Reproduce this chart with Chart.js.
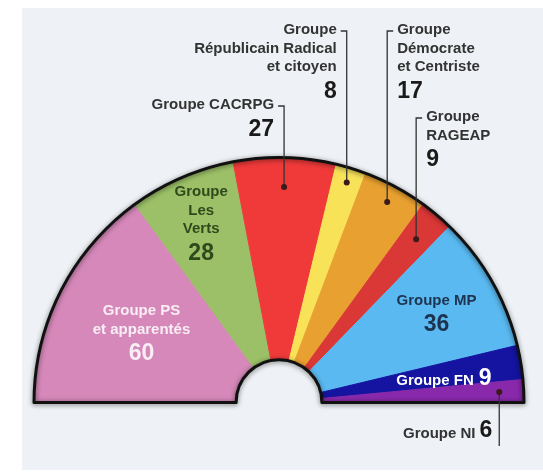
<!DOCTYPE html>
<html>
<head>
<meta charset="utf-8">
<script src="https://cdn.jsdelivr.net/npm/chart.js@4/dist/chart.umd.min.js"></script>
<style>
  body { margin: 0; background: #ffffff; }
  #panel { position: absolute; left: 22px; top: 8px; width: 521px; height: 462px; background: #eef1f5; }
  #chart { position: absolute; left: 0; top: 0; }
</style>
</head>
<body>
<div id="panel"></div>
<canvas id="chart" width="543" height="474"></canvas>
<script>
// seats per group, left to right around the hemicycle
const groups = ['Groupe PS et apparentés', 'Groupe Les Verts', 'Groupe CACRPG',
  'Groupe Républicain Radical et citoyen', 'Groupe Démocrate et Centriste',
  'Groupe RAGEAP', 'Groupe MP', 'Groupe FN', 'Groupe NI'];
const seats = [60, 28, 27, 8, 17, 9, 36, 9, 6];
const colors = ['#d588b9', '#9bc067', '#f03a3a', '#f7e258', '#e8a030',
  '#da3737', '#5ab9f0', '#1414a0', '#8828aa'];

const FONT = '"Liberation Sans", Arial, sans-serif';
const textFont = 'bold 15px ' + FONT;
const numFont = 'bold 23px ' + FONT;

// labels drawn inside the slices (a = position along the slice, r = fraction of radius)
const innerLabels = [
  { i: 0, a: 0.5, r: 0.63, lines: ['Groupe PS', 'et apparentés'], color: '#f8eef4' },
  { i: 1, a: 0.5, r: 0.8, lines: ['Groupe', 'Les', 'Verts'], color: '#2e4a1c' },
  { i: 6, a: 0.5, r: 0.74, lines: ['Groupe MP'], color: '#1d3350' }
];

// labels outside with a leader line down to a dot in the slice
const outerLabels = [
  { i: 2, r: 0.88, side: 'left', y: 105, lines: ['Groupe CACRPG'] },
  { i: 3, r: 0.94, side: 'left', y: 30, lines: ['Groupe', 'Républicain Radical', 'et citoyen'] },
  { i: 4, r: 0.93, side: 'right', y: 30, lines: ['Groupe', 'Démocrate', 'et Centriste'] },
  { i: 5, r: 0.87, side: 'right', y: 117, lines: ['Groupe', 'RAGEAP'] }
];

function slicePoint(el, frac, along) {
  const t = along === undefined ? 0.5 : along;
  const ang = el.startAngle + (el.endAngle - el.startAngle) * t;
  const rr = el.outerRadius * frac;
  return { x: el.x + Math.cos(ang) * rr, y: el.y + Math.sin(ang) * rr };
}

const outlinePlugin = {
  id: 'outline',
  afterDatasetsDraw(chart) {
    const el = chart.getDatasetMeta(0).data[0];
    const ctx = chart.ctx;
    ctx.save();
    ctx.beginPath();
    ctx.arc(el.x, el.y, el.outerRadius, Math.PI, 2 * Math.PI);
    ctx.lineTo(el.x + el.innerRadius, el.y);
    ctx.arc(el.x, el.y, el.innerRadius, 0, Math.PI, true);
    ctx.closePath();
    ctx.lineJoin = 'round';
    ctx.strokeStyle = '#111';
    ctx.lineWidth = 3;
    ctx.shadowColor = 'rgba(0,0,0,0.55)';
    ctx.shadowBlur = 5;
    ctx.shadowOffsetY = 1;
    ctx.stroke();
    ctx.restore();
  }
};

const labelPlugin = {
  id: 'labels',
  afterDraw(chart) {
    const ctx = chart.ctx;
    const arcs = chart.getDatasetMeta(0).data;
    ctx.save();
    ctx.textBaseline = 'middle';

    innerLabels.forEach(l => {
      const p = slicePoint(arcs[l.i], l.r, l.a);
      const h = l.lines.length * 18.5 + 24;
      let y = p.y - h / 2 + 9;
      ctx.fillStyle = l.color;
      ctx.textAlign = 'center';
      ctx.font = textFont;
      l.lines.forEach(t => { ctx.fillText(t, p.x, y); y += 18.5; });
      ctx.font = numFont;
      ctx.fillText(String(seats[l.i]), p.x, y + 6);
    });

    // FN: text and number on one line, sitting low in the thin slice
    const fn = slicePoint(arcs[7], 0.68, 0.65);
    ctx.fillStyle = '#ffffff';
    ctx.font = textFont;
    const fnW = ctx.measureText('Groupe FN').width;
    ctx.font = numFont;
    const fnN = ctx.measureText(String(seats[7])).width;
    const fx = fn.x - (fnW + 5 + fnN) / 2;
    ctx.textAlign = 'left';
    ctx.font = textFont;
    ctx.fillText('Groupe FN', fx, fn.y + 2);
    ctx.font = numFont;
    ctx.fillText(String(seats[7]), fx + fnW + 5, fn.y);

    ctx.strokeStyle = '#333';
    ctx.lineWidth = 1.3;
    outerLabels.forEach(l => {
      const d = slicePoint(arcs[l.i], l.r);
      const dir = l.side === 'left' ? -1 : 1;
      const tx = d.x + dir * 10;
      ctx.beginPath();
      ctx.moveTo(d.x + dir * 6, l.y + 1);
      ctx.lineTo(d.x, l.y + 1);
      ctx.lineTo(d.x, d.y);
      ctx.stroke();
      ctx.fillStyle = '#3a1a1a';
      ctx.beginPath();
      ctx.arc(d.x, d.y, 3, 0, 2 * Math.PI);
      ctx.fill();
      ctx.textAlign = l.side === 'left' ? 'right' : 'left';
      ctx.font = textFont;
      ctx.fillStyle = '#333';
      let y = l.y;
      l.lines.forEach(t => { ctx.fillText(t, tx, y); y += 18.5; });
      ctx.font = numFont;
      ctx.fillStyle = '#1a1a1a';
      ctx.fillText(String(seats[l.i]), tx, y + 6);
    });

    // NI: line goes down below the hemicycle
    const ni = slicePoint(arcs[8], 0.9);
    ctx.beginPath();
    ctx.moveTo(ni.x, ni.y);
    ctx.lineTo(ni.x, 446);
    ctx.stroke();
    ctx.fillStyle = '#3a1a1a';
    ctx.beginPath();
    ctx.arc(ni.x, ni.y, 3, 0, 2 * Math.PI);
    ctx.fill();
    ctx.textAlign = 'right';
    ctx.font = numFont;
    ctx.fillStyle = '#1a1a1a';
    const niN = ctx.measureText(String(seats[8])).width;
    ctx.fillText(String(seats[8]), ni.x - 7, 431);
    ctx.font = textFont;
    ctx.fillStyle = '#333';
    ctx.fillText('Groupe NI', ni.x - 7 - niN - 4, 434);
    ctx.restore();
  }
};

const ctx = document.getElementById('chart').getContext('2d');
new Chart(ctx, {
  type: 'doughnut',
  data: {
    labels: groups,
    datasets: [{
      data: seats,
      backgroundColor: colors,
      borderColor: colors,
      borderWidth: 1
    }]
  },
  options: {
    responsive: false,
    animation: false,
    rotation: -90,
    circumference: 180,
    cutout: '17.5%',
    layout: { padding: { left: 33, right: 18, top: 157, bottom: 71 } },
    plugins: {
      legend: { display: false },
      tooltip: { enabled: false }
    }
  },
  plugins: [outlinePlugin, labelPlugin]
});
</script>
</body>
</html>
